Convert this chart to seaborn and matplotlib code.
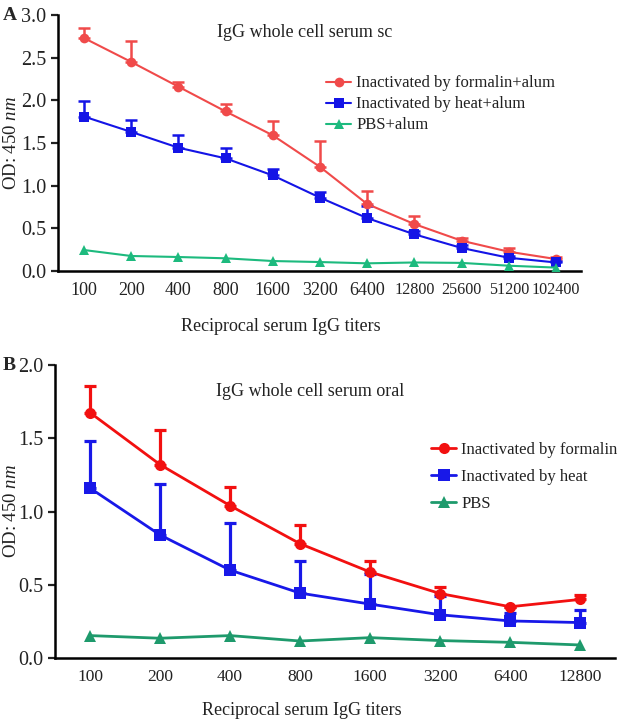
"""
Two-panel ELISA titration plot (IgG whole cell serum, sc and oral)
"""
import numpy as np
import pandas as pd
import seaborn as sns
import matplotlib.pyplot as plt

sns.set_theme(style="ticks")
plt.rcParams["font.family"] = ["Liberation Serif", "DejaVu Serif"]
plt.rcParams["mathtext.fontset"] = "custom"
plt.rcParams["mathtext.it"] = "Liberation Serif:italic"
plt.rcParams["mathtext.rm"] = "Liberation Serif"

# panel A: subcutaneous
titers_a = ["100", "200", "400", "800", "1600", "3200", "6400", "12800", "25600", "51200", "102400"]
formalin_a = [2.73, 2.45, 2.16, 1.87, 1.59, 1.22, 0.785, 0.55, 0.355, 0.226, 0.14]
formalin_a_top = [2.85, 2.69, 2.22, 1.96, 1.76, 1.52, 0.94, 0.65, 0.39, 0.27, 0.16]
heat_a = [1.81, 1.63, 1.445, 1.32, 1.12, 0.86, 0.62, 0.43, 0.27, 0.155, 0.10]
heat_a_top = [1.99, 1.77, 1.59, 1.44, 1.20, 0.92, 0.76, 0.47, 0.30, 0.18, 0.12]
pbs_a = [0.246, 0.176, 0.164, 0.149, 0.117, 0.105, 0.09, 0.10, 0.095, 0.062, 0.04]
labels_a = ["Inactivated by formalin+alum", "Inactivated by heat+alum", "PBS+alum"]

# panel B: oral
titers_b = ["100", "200", "400", "800", "1600", "3200", "6400", "12800"]
formalin_b = [1.675, 1.32, 1.04, 0.78, 0.587, 0.44, 0.35, 0.40]
formalin_b_top = [1.86, 1.555, 1.17, 0.906, 0.664, 0.486, 0.35, 0.43]
heat_b = [1.16, 0.84, 0.60, 0.443, 0.368, 0.295, 0.253, 0.242]
heat_b_top = [1.48, 1.19, 0.92, 0.664, 0.575, 0.42, 0.31, 0.33]
pbs_b = [0.153, 0.135, 0.153, 0.116, 0.139, 0.119, 0.107, 0.089]
labels_b = ["Inactivated by formalin", "Inactivated by heat", "PBS"]

TXT = "#222222"


def panel(ax, titers, series, tops, labels, colors, lw, ms):
    rows = []
    for vals, lab in zip(series, labels):
        rows += [{"titer": t, "od": v, "group": lab} for t, v in zip(titers, vals)]
    df = pd.DataFrame(rows)
    # upward-only error bars first, so markers sit on top
    for vals, top, col in zip(series, tops, colors):
        if top is None:
            continue
        up = np.array(top) - np.array(vals)
        ax.errorbar(titers, vals, yerr=[np.zeros_like(up), up], fmt="none",
                    ecolor=col, elinewidth=lw + 0.3, capsize=4, capthick=lw + 0.3, zorder=2)
    sns.lineplot(data=df, x="titer", y="od", hue="group", style="group",
                 markers=["o", "s", "^"], dashes=False, palette=colors,
                 markersize=ms, markeredgewidth=0, linewidth=lw, ax=ax, zorder=3)
    for side in ["top", "right"]:
        ax.spines[side].set_visible(False)
    for side in ["left", "bottom"]:
        ax.spines[side].set_linewidth(1.8)
        ax.spines[side].set_color("black")
    ax.tick_params(axis="y", length=5, width=1.6, labelsize=14.5, colors=TXT)
    ax.tick_params(axis="x", length=0, pad=8, labelsize=12.5, colors=TXT)
    ax.set_ylabel("OD: 450 $\\it{nm}$", fontsize=13.5, color=TXT)


fig = plt.figure(figsize=(6.19, 7.2), dpi=100)
ax_a = fig.add_axes([0.0937, 0.6236, 0.8449, 0.3556])
ax_b = fig.add_axes([0.0889, 0.0861, 0.905, 0.4069])

cols_a = ["#F04A4A", "#1414E6", "#1DBA7E"]
panel(ax_a, titers_a, [formalin_a, heat_a, pbs_a], [formalin_a_top, heat_a_top, None],
      labels_a, cols_a, 1.5, 7)
ax_a.set_xlim(-0.55, 10.53)
ax_a.set_ylim(0, 3.0)
ax_a.set_yticks([0, 0.5, 1.0, 1.5, 2.0, 2.5, 3.0])
ax_a.set_yticklabels(["0.0", "0.5", "1.0", "1.5", "2.0", "2.5", "3.0"])
for lab in ax_a.get_xticklabels():
    lab.set_fontsize(13 if len(lab.get_text()) <= 4 else 11.6)
ax_a.set_xlabel("Reciprocal serum IgG titers", fontsize=13, color=TXT)
ax_a.xaxis.set_label_coords(0.426, -0.185)
ax_a.yaxis.set_label_coords(-0.073, 0.5)
ax_a.text(0.304, 0.93, "IgG whole cell serum sc", transform=ax_a.transAxes,
          fontsize=13, va="center", ha="left", color=TXT)
ax_a.legend(loc="upper left", bbox_to_anchor=(0.5, 0.79), frameon=False, fontsize=12,
            handlelength=1.5, handletextpad=0.3, labelspacing=0.3, borderaxespad=0,
            labelcolor=TXT)

cols_b = ["#F21010", "#1818E8", "#1E9A6C"]
panel(ax_b, titers_b, [formalin_b, heat_b, pbs_b], [formalin_b_top, heat_b_top, None],
      labels_b, cols_b, 2.0, 8)
ax_b.set_xlim(-0.5, 7.5)
ax_b.set_ylim(0, 2.0)
ax_b.set_yticks([0, 0.5, 1.0, 1.5, 2.0])
ax_b.set_yticklabels(["0.0", "0.5", "1.0", "1.5", "2.0"])
ax_b.set_xlabel("Reciprocal serum IgG titers", fontsize=13, color=TXT)
ax_b.xaxis.set_label_coords(0.44, -0.15)
ax_b.yaxis.set_label_coords(-0.062, 0.5)
ax_b.text(0.287, 0.908, "IgG whole cell serum oral", transform=ax_b.transAxes,
          fontsize=13, va="center", ha="left", color=TXT)
ax_b.legend(loc="upper left", bbox_to_anchor=(0.66, 0.76), frameon=False, fontsize=12,
            handlelength=1.5, handletextpad=0.3, labelspacing=0.65, borderaxespad=0,
            labelcolor=TXT)

fig.text(0.005, 0.979, "A", fontsize=14, fontweight="bold", va="center", ha="left")
fig.text(0.005, 0.493, "B", fontsize=14, fontweight="bold", va="center", ha="left")

fig.savefig("out.png", dpi=100)
